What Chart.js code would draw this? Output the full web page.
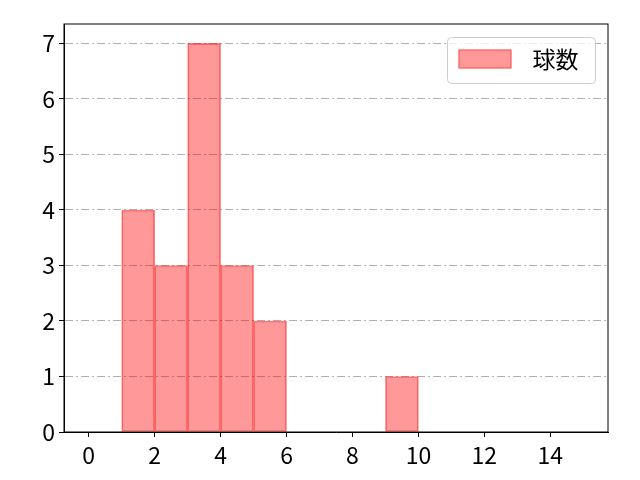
<!DOCTYPE html>
<html>
<head>
<meta charset="utf-8">
<script src="https://cdn.jsdelivr.net/npm/chart.js@4/dist/chart.umd.min.js"></script>
<style>
  body { margin: 0; background: #fff; }
  canvas { display: block; }
</style>
</head>
<body>
<canvas id="histChart" width="640" height="480"></canvas>
<script>
// histogram bins (left edge, width 1) and their counts
const binStarts = [0, 1, 2, 3, 4, 5, 6, 7, 8, 9, 10, 11, 12, 13, 14];
const counts = [0, 4, 3, 7, 3, 2, 0, 0, 0, 1, 0, 0, 0, 0, 0];
const seriesLabel = '球数';
const xTicks = [0, 2, 4, 6, 8, 10, 12, 14];
const yTicks = [0, 1, 2, 3, 4, 5, 6, 7];

const FONT = "'Noto Sans CJK JP', 'Noto Sans', sans-serif";

var bar_data = [];
binStarts.forEach(function(start, i){
    if (counts[i] > 0) {
        bar_data.push({x: start + 0.5, y: counts[i]});
    }
});

// matplotlib style frame round the plot area
const framePlugin = {
    id: 'frame',
    afterDraw(chart) {
        const {ctx, chartArea: a} = chart;
        ctx.save();
        ctx.strokeStyle = '#000';
        ctx.lineWidth = 1;
        ctx.strokeRect(a.left, a.top, a.right - a.left, a.bottom - a.top);
        ctx.restore();
    }
};

// legend drawn inside the plot, top right
const boxLegend = {
    id: 'boxLegend',
    afterDraw(chart) {
        const {ctx, chartArea: a} = chart;
        const ds = chart.data.datasets[0];
        const w = 148, h = 46;
        const x = a.right - 12.5 - w, y = a.top + 13.5;
        ctx.save();
        ctx.beginPath();
        ctx.roundRect(x, y, w, h, 4);
        ctx.fillStyle = 'rgba(255,255,255,0.8)';
        ctx.fill();
        ctx.strokeStyle = '#cccccc';
        ctx.lineWidth = 1;
        ctx.stroke();
        ctx.fillStyle = ds.backgroundColor;
        ctx.fillRect(x + 11, y + 12, 53, 19);
        ctx.strokeStyle = ds.borderColor;
        ctx.strokeRect(x + 11.5, y + 12.5, 52, 18);
        ctx.fillStyle = '#000';
        ctx.font = '23px ' + FONT;
        ctx.textBaseline = 'middle';
        ctx.fillText(ds.label, x + 85, y + 22);
        ctx.restore();
    }
};

const chart = new Chart(document.getElementById('histChart').getContext('2d'), {
    type: 'bar',
    data: {
        datasets: [{
            label: seriesLabel,
            data: bar_data,
            backgroundColor: 'rgba(255, 0, 0, 0.4)',
            borderColor: 'rgba(255, 0, 0, 0.5)',
            borderWidth: 1,
            borderSkipped: false,
            barPercentage: 1,
            categoryPercentage: 1
        }]
    },
    options: {
        responsive: false,
        animation: false,
        layout: { padding: { top: 24, right: 32, left: 0, bottom: 0 } },
        plugins: {
            legend: { display: false },
            tooltip: { enabled: false }
        },
        scales: {
            x: {
                type: 'linear',
                min: -0.75,
                max: 15.75,
                offset: false,
                afterBuildTicks: function(scale){
                    scale.ticks = xTicks.map(v => ({value: v}));
                },
                afterFit: function(scale){ scale.height = 48; },
                grid: {
                    offset: false,
                    drawOnChartArea: false,
                    tickColor: '#000',
                    tickLength: 5
                },
                border: { color: '#000', width: 1 },
                ticks: {
                    color: '#000',
                    padding: 4,
                    maxRotation: 0,
                    font: { family: FONT, size: 23 }
                }
            },
            y: {
                min: 0,
                max: 7.35,
                z: 1,
                afterBuildTicks: function(scale){
                    scale.ticks = yTicks.map(v => ({value: v}));
                },
                afterFit: function(scale){ scale.width = 64; },
                grid: {
                    color: '#b0b0b0',
                    lineWidth: 1,
                    tickColor: '#000',
                    tickLength: 5,
                    tickBorderDash: []
                },
                border: { color: '#000', width: 1, dash: [8, 3, 2, 3] },
                ticks: {
                    color: '#000',
                    padding: 4,
                    font: { family: FONT, size: 23 }
                }
            }
        }
    },
    plugins: [framePlugin, boxLegend]
});
</script>
</body>
</html>
